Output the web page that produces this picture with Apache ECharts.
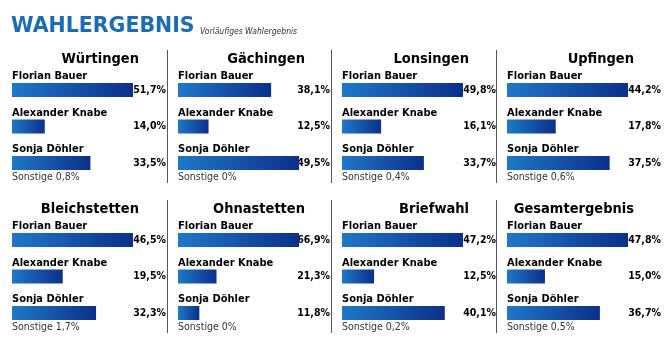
<!DOCTYPE html>
<html>
<head>
<meta charset="utf-8">
<script src="https://cdn.jsdelivr.net/npm/echarts@6.0.0/dist/echarts.min.js"></script>
<style>
  html, body { margin: 0; padding: 0; background: #fff; }
  #main { width: 670px; height: 353px; }
</style>
</head>
<body>
<div id="main"></div>
<script>
// Wahlergebnis je Ort
const places = ['Würtingen', 'Gächingen', 'Lonsingen', 'Upfingen', 'Bleichstetten', 'Ohnastetten', 'Briefwahl', 'Gesamtergebnis']
const candidates = ['Florian Bauer', 'Alexander Knabe', 'Sonja Döhler']
const bauer = [51.7, 38.1, 49.8, 44.2, 46.5, 66.9, 47.2, 47.8]
const knabe = [14.0, 12.5, 16.1, 17.8, 19.5, 21.3, 12.5, 15.0]
const doehler = [33.5, 49.5, 33.7, 37.5, 32.3, 11.8, 40.1, 36.7]
const sonstige = [0.8, 0, 0.4, 0.6, 1.7, 0, 0.2, 0.5]

// layout
const panelLeft = [12, 178, 342, 507]
const labelRight = [166, 330, 496, 661]
const rowTop = [0, 150]
const dividers = [167.5, 331.5, 496.5]
const barSpan = 121

const narrow = "'DejaVu Sans Condensed', 'Liberation Sans Narrow', sans-serif"

function fmt (v) {
  return (v === 0 ? '0' : v.toFixed(1).replace('.', ',')) + '%'
}

const barColor = new echarts.graphic.LinearGradient(0, 0, 1, 0, [
  { offset: 0, color: '#1f78c8' },
  { offset: 1, color: '#0c308a' }
])

const grids = []
const xAxes = []
const yAxes = []
const series = []
const titles = [{
  text: 'WAHLERGEBNIS',
  left: 11,
  top: 16,
  padding: 0,
  textStyle: { color: '#1a6cb5', fontFamily: 'DejaVu Sans', fontWeight: 'bold', fontSize: 20.5 }
}, {
  text: 'Vorläufiges Wahlergebnis',
  left: 200,
  top: 27,
  padding: 0,
  textStyle: { color: '#333', fontFamily: narrow, fontStyle: 'italic', fontWeight: 'normal', fontSize: 8.5 }
}]
const graphics = []

places.forEach((place, i) => {
  const col = i % 4
  const top = rowTop[Math.floor(i / 4)]
  const left = panelLeft[col]
  const vals = [bauer[i], knabe[i], doehler[i]]

  grids.push({ left: left, top: top + 71.75, width: barSpan, height: 109.5 })
  xAxes.push({ gridIndex: i, type: 'value', min: 0, max: 'dataMax', show: false })
  yAxes.push({
    gridIndex: i,
    type: 'category',
    inverse: true,
    data: candidates,
    axisLine: { show: false },
    axisTick: { show: false },
    axisLabel: {
      inside: true,
      interval: 0,
      margin: 0,
      verticalAlign: 'bottom',
      padding: [0, 0, 8, 0],
      fontFamily: narrow,
      fontWeight: 'bold',
      fontSize: 11,
      color: '#000'
    }
  })
  yAxes.push({
    gridIndex: i,
    type: 'category',
    position: 'right',
    inverse: true,
    data: vals.map(fmt),
    axisLine: { show: false },
    axisTick: { show: false },
    axisLabel: {
      interval: 0,
      margin: labelRight[col] - (left + barSpan),
      align: 'right',
      fontFamily: narrow,
      fontWeight: 'bold',
      fontSize: 10.5,
      color: '#000'
    }
  })
  series.push({
    type: 'bar',
    xAxisIndex: i,
    yAxisIndex: 2 * i,
    data: vals,
    barWidth: 14,
    itemStyle: { color: barColor },
    silent: true
  })
  titles.push({
    text: place,
    right: 670 - (left + 127),
    top: top + 52,
    padding: 0,
    textStyle: { fontFamily: narrow, fontWeight: 'bold', fontSize: 14.5, color: '#000' }
  })
  titles.push({
    text: 'Sonstige ' + fmt(sonstige[i]),
    left: left,
    top: top + 172,
    padding: 0,
    textStyle: { fontFamily: narrow, fontWeight: 'normal', fontSize: 10.5, color: '#333' }
  })
})

rowTop.forEach((top) => {
  dividers.forEach((x) => {
    graphics.push({
      type: 'line',
      shape: { x1: x, y1: top + 50, x2: x, y2: top + 183 },
      style: { stroke: '#555', lineWidth: 1 }
    })
  })
})

const myChart = echarts.init(document.getElementById('main'))
myChart.setOption({
  animation: false,
  backgroundColor: '#fff',
  title: titles,
  grid: grids,
  xAxis: xAxes,
  yAxis: yAxes,
  series: series,
  graphic: graphics
})
</script>
</body>
</html>
